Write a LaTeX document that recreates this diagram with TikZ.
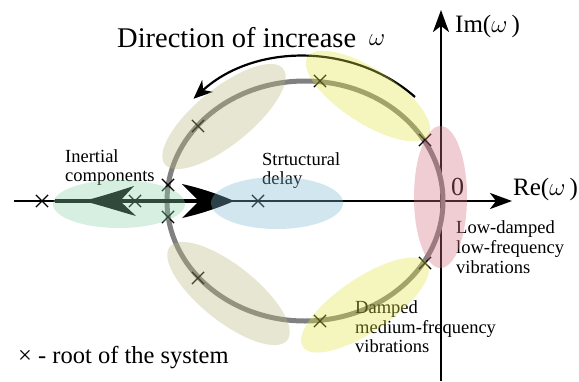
\documentclass[tikz,border=0pt]{standalone}
\usepackage{fontspec}
\setmainfont{Liberation Serif}
\usetikzlibrary{arrows.meta,shapes.misc}
\definecolor{cgreen}{RGB}{140,210,170}
\definecolor{cblue}{RGB}{126,184,212}
\definecolor{cpink}{RGB}{212,112,126}
\definecolor{cyellow}{RGB}{226,226,69}
\definecolor{colive}{RGB}{184,184,126}
\definecolor{ring}{RGB}{128,128,128}
\tikzset{
  axisline/.style={line width=2.4pt, -{Stealth[length=22pt,width=16pt,inset=6pt]}},
  rootmark/.style={cross out, draw=black, line width=1.2pt, minimum size=11pt, inner sep=0pt},
  lab/.style={anchor=base west, inner sep=0pt, font=\fontsize{18.5}{20}\selectfont},
  zone/.style={opacity=0.35},
}
\begin{document}
\begin{tikzpicture}[x=1pt,y=-1pt]
\useasboundingbox (0,0) rectangle (579,381);
% axes
\coordinate (reL) at (14,201);
\coordinate (reR) at (512,201);
\coordinate (imB) at (441,381);
\coordinate (imT) at (441,10);
\draw[axisline] (reL) -- (reR);
\draw[axisline] (imB) -- (imT);
% root locus ring
\coordinate (c) at (305,201);
\draw[ring, line width=5pt] (c) ellipse [x radius=138, y radius=120];
% thick shaft on real axis
\coordinate (sh1) at (55,201);
\coordinate (sh2) at (200,201);
\draw[line width=4.5pt] (sh1) -- (sh2);
% arrowheads on real axis
\fill (234,201) .. controls (216,193) and (196,187) .. (182,184) -- (199,201) -- (182,218) .. controls (196,215) and (216,209) .. (234,201) -- cycle;
\fill (83,201) .. controls (100,197) and (118,191) .. (134,186) -- (120,201) -- (136,216) .. controls (118,211) and (100,205) .. (83,201) -- cycle;
% direction arrow
\coordinate (ds) at (415,97);
\draw[line width=2.2pt, -{Stealth[length=19pt,width=16pt,inset=6pt]}] (ds) arc[start angle=-46, end angle=-135, x radius=158, y radius=144];
% roots
\node[rootmark] (r1) at (42,201) {};
\node[rootmark] (r2) at (135,201) {};
\node[rootmark] (r3) at (168,185) {};
\node[rootmark] (r4) at (168,217) {};
\node[rootmark] (r5) at (258,201) {};
\node[rootmark] (r6) at (198,126) {};
\node[rootmark] (r7) at (320,81) {};
\node[rootmark] (r8) at (425,140) {};
\node[rootmark] (r9) at (425,263) {};
\node[rootmark] (r10) at (320,321) {};
\node[rootmark] (r11) at (198,278) {};
% texts
\node[anchor=base west, inner sep=0pt, font=\fontsize{28.5}{30}\selectfont] (title) at (117,47) {Direction of increase};
\node[anchor=base west, inner sep=0pt, font=\fontsize{28}{30}\selectfont] (tw) at (369,45) {$\omega$};
\node[anchor=base west, inner sep=0pt, font=\fontsize{25}{28}\selectfont] (im) at (455,32) {Im($\omega$\,)};
\node[anchor=base west, inner sep=0pt, font=\fontsize{25}{28}\selectfont] (re) at (513,195) {Re($\omega$\,)};
\node[anchor=base west, inner sep=0pt, font=\fontsize{26}{28}\selectfont] (zero) at (451,195) {0};
\node[lab] (in1) at (65,162) {Inertial};
\node[lab] (in2) at (65,181) {components};
\node[lab] (sd1) at (262,165) {Strtuctural};
\node[lab] (sd2) at (262,184) {delay};
\node[lab] (ld1) at (456,233) {Low-damped};
\node[lab] (ld2) at (456,253) {low-frequency};
\node[lab] (ld3) at (456,273) {vibrations};
\node[lab] (dm1) at (355,313) {Damped};
\node[lab] (dm2) at (355,333) {medium-frequency};
\node[lab] (dm3) at (355,352) {vibrations};
\node[anchor=base west, inner sep=0pt, font=\fontsize{24.5}{26}\selectfont] (legend) at (18,363) {× - root of the system};
% shaded zones
\fill[cgreen, zone] (119,204) ellipse [x radius=66, y radius=24];
\fill[cblue, zone] (277,203) ellipse [x radius=66, y radius=26];
\fill[cpink, zone] (440.5,197) ellipse [x radius=26.5, y radius=71];
\fill[cyellow, zone, rotate around={-33:(368,96)}] (368,96) ellipse [x radius=72, y radius=27];
\fill[colive, zone, rotate around={39:(224,116.5)}] (224,116.5) ellipse [x radius=76, y radius=28];
\fill[colive, zone, rotate around={-38.5:(228.5,293.5)}] (228.5,293.5) ellipse [x radius=75, y radius=28];
\fill[cyellow, zone, rotate around={34:(365,305)}] (365,305) ellipse [x radius=75, y radius=27];
\end{tikzpicture}
\end{document}
